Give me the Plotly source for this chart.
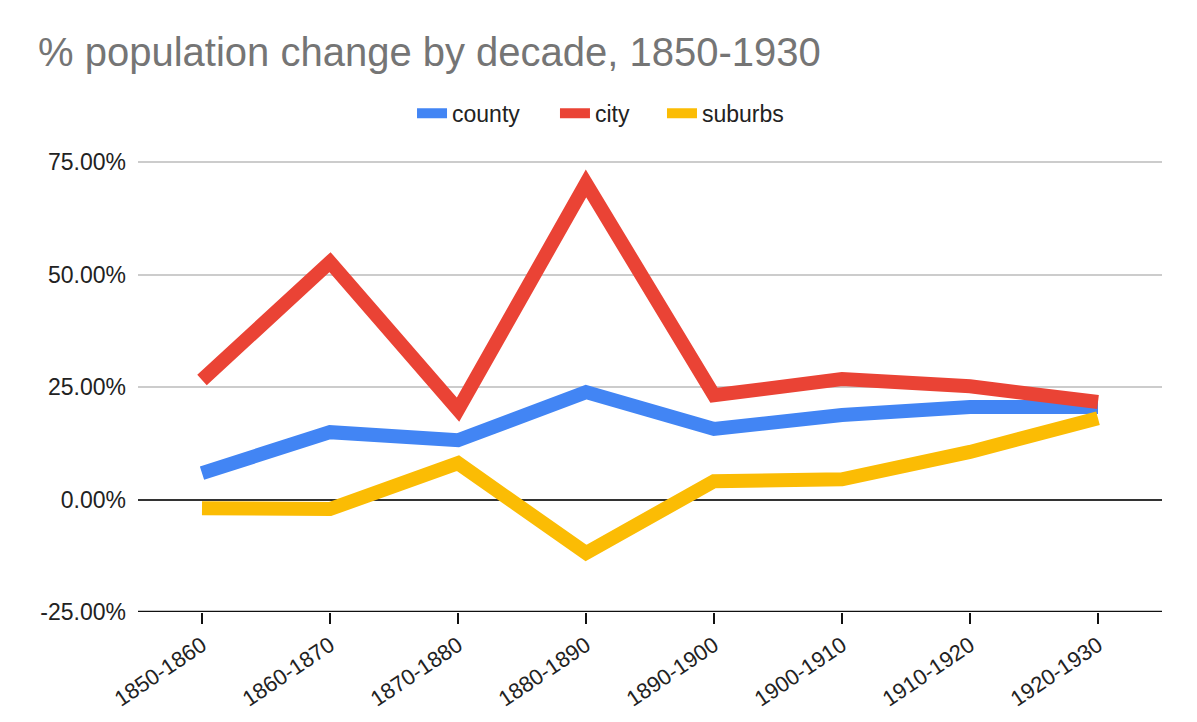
import plotly.graph_objects as go

decades = ["1850-1860", "1860-1870", "1870-1880", "1880-1890",
           "1890-1900", "1900-1910", "1910-1920", "1920-1930"]
county = [5.9, 15.0, 13.2, 23.9, 15.7, 18.8, 20.6, 20.6]
city = [26.6, 52.8, 20.0, 70.3, 23.2, 26.8, 25.2, 21.7]
suburbs = [-1.9, -2.1, 8.1, -11.9, 4.1, 4.5, 10.6, 18.1]

y_ticks = [-25, 0, 25, 50, 75]
y_tick_labels = ["-25.00%", "0.00%", "25.00%", "50.00%", "75.00%"]

series = [("county", county, "#4285F4", "legend", 0.2676),
          ("city", city, "#EA4335", "legend2", 0.4072),
          ("suburbs", suburbs, "#FBBC04", "legend3", 0.5117)]

fig = go.Figure()
legend_layouts = {}
for name, vals, color, leg, lx in series:
    fig.add_trace(go.Scatter(x=decades, y=vals, name=name, mode="lines",
                             line=dict(color=color, width=14), legend=leg))
    legend_layouts[leg] = dict(orientation="h", x=lx, xanchor="left",
                               y=1.106, yanchor="middle", itemwidth=30,
                               font=dict(size=23, color="#222222"),
                               bgcolor="rgba(0,0,0,0)")

fig.update_layout(
    width=1197, height=722,
    paper_bgcolor="white", plot_bgcolor="white",
    font=dict(family="Liberation Sans, Arial, sans-serif", color="#222222"),
    title=dict(text="% population change by decade, 1850-1930",
               x=30 / 1197, xanchor="left", y=1 - 44 / 722, yanchor="middle",
               font=dict(size=40, color="#757575")),
    margin=dict(l=130, r=43, t=153, b=118),
    showlegend=True,
    xaxis=dict(range=[-0.5, 7.5], showgrid=False, ticks="outside", ticklen=11,
               tickcolor="#111111", tickwidth=2, tickangle=-34,
               tickfont=dict(size=22, color="#222222"),
               showline=False, zeroline=False),
    yaxis=dict(range=[-25, 75.3], tickvals=y_ticks, ticktext=y_tick_labels,
               showgrid=True, gridcolor="#cccccc", gridwidth=1.5,
               zeroline=True, zerolinecolor="#333333", zerolinewidth=2,
               tickfont=dict(size=23, color="#222222"), ticklabelstandoff=11,
               ticks="", showline=False),
    **legend_layouts,
)

fig.add_shape(type="line", xref="paper", yref="y", x0=0, x1=1, y0=-25, y1=-25,
              line=dict(color="#111111", width=2.5))

fig.write_html("out.html")
